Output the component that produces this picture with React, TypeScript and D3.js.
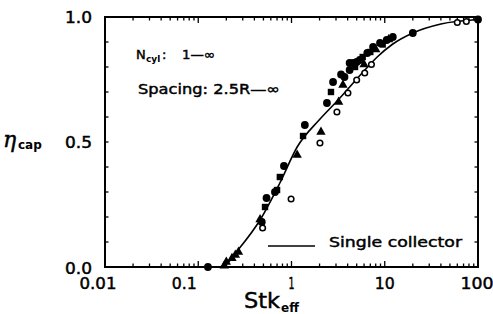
import React from 'react';
import * as d3 from 'd3';

// axis ticks / labels
const stkTicks = [0.01, 0.1, 1, 10, 100];
const stkTickLabels = ['0.01', '0.1', '1', '10', '100'];
const stkLabelShift = [-7, -14, 0, 0, -1];
const stkLabelWidth = [37, 25, 6, 20, 33];
const etaTicks = [0, 0.5, 1];
const etaTickLabels = ['0.0', '0.5', '1.0'];

// single collector curve
const singleCollector: [number, number][] = [
  [0.17, 0], [0.2, 0.012], [0.267, 0.068], [0.46, 0.188], [0.75, 0.336],
  [1.15, 0.48], [2.0, 0.59], [3.16, 0.668], [5.85, 0.78], [8.3, 0.84],
  [12, 0.89], [20, 0.936], [40, 0.972], [100, 0.99],
];

// experimental points, by marker
const filledCircles: [number, number][] = [
  [0.127, 0], [0.48, 0.18], [0.54, 0.276], [0.665, 0.3], [0.83, 0.404],
  [1.39, 0.568], [2.4, 0.656], [2.79, 0.74], [3.7, 0.76], [4.2, 0.788],
  [4.6, 0.816], [5.4, 0.828], [6.5, 0.856], [7.5, 0.88], [8.9, 0.896],
  [10.5, 0.908], [12.2, 0.92], [20, 0.936], [100, 0.99], [4.2, 0.816],
  [3.4, 0.77], [5.0, 0.82],
];
const openCircles: [number, number][] = [
  [0.49, 0.156], [0.99, 0.272], [2.02, 0.496], [3.07, 0.62], [4.03, 0.696],
  [5.0, 0.748], [6.1, 0.776], [7.2, 0.81], [60, 0.978], [75, 0.982],
];
const filledSquares: [number, number][] = [
  [0.52, 0.24], [0.7, 0.308], [0.75, 0.36], [1.33, 0.524], [2.65, 0.7],
  [4.8, 0.8], [5.8, 0.84], [7.0, 0.86], [9.5, 0.89],
];
const filledTriangles: [number, number][] = [
  [0.19, 0.005], [0.2, 0.02], [0.23, 0.035], [0.25, 0.048], [0.27, 0.06],
  [0.46, 0.19], [1.15, 0.448], [2.07, 0.54], [3.2, 0.66], [3.56, 0.728],
  [6.0, 0.81], [8, 0.87], [11, 0.91],
];

const W = 493;
const H = 314;
const m = { left: 105, right: 478, top: 17, bottom: 267 };
const font = '"DejaVu Sans", sans-serif';
// the scanned lettering is a bit heavier than DejaVu regular
const ink = { stroke: '#000', strokeWidth: 0.45 };

export default function App() {
  const x = d3.scaleLog().domain([0.01, 100]).range([m.left, m.right]);
  const y = d3.scaleLinear().domain([0, 1]).range([m.bottom, m.top]);

  const line = d3.line<[number, number]>()
    .x((d) => x(d[0]))
    .y((d) => y(d[1]))
    .curve(d3.curveMonotoneX);

  const minorX = x.ticks();
  const minorY = y.ticks(10);
  const tri = d3.symbol().type(d3.symbolTriangle).size(38)();

  return (
    <svg width={W} height={H} style={{ position: 'absolute', left: 0, top: 0, background: '#fff' }}>
      {/* frame */}
      <rect x={m.left} y={m.top} width={m.right - m.left} height={m.bottom - m.top}
        fill="none" stroke="#000" strokeWidth={2} />

      {/* x ticks, bottom and top, inward */}
      {minorX.map((t, i) => {
        const major = stkTicks.includes(t);
        const len = major ? 6 : 3.5;
        return (
          <g key={'xt' + i} stroke="#000" strokeWidth={1.3}>
            <line x1={x(t)} x2={x(t)} y1={m.bottom} y2={m.bottom - len} />
            <line x1={x(t)} x2={x(t)} y1={m.top} y2={m.top + len} />
          </g>
        );
      })}
      {/* y ticks, left and right, inward */}
      {minorY.map((t, i) => (
        <g key={'yt' + i} stroke="#000" strokeWidth={1.3}>
          <line x1={m.left} x2={m.left + 3.5} y1={y(t)} y2={y(t)} />
          <line x1={m.right} x2={m.right - 3.5} y1={y(t)} y2={y(t)} />
        </g>
      ))}

      {/* tick labels */}
      {stkTicks.map((t, i) => (
        <text key={'xl' + i} x={x(t) + stkLabelShift[i]} y={289} textAnchor="middle" {...ink}
          fontFamily={font} fontSize={15} textLength={stkLabelWidth[i]} lengthAdjust="spacingAndGlyphs">
          {stkTickLabels[i]}
        </text>
      ))}
      {etaTicks.map((t, i) => (
        <text key={'yl' + i} x={m.left - 13} y={y(t) + 6 + (t === 0 ? 1 : 0)} textAnchor="end" {...ink}
          fontFamily={font} fontSize={15} textLength={27} lengthAdjust="spacingAndGlyphs">
          {etaTickLabels[i]}
        </text>
      ))}

      {/* axis titles */}
      <text x={244} y={308} fontFamily={font} fontSize={21} textLength={36} lengthAdjust="spacingAndGlyphs" {...ink}>Stk</text>
      <text x={281} y={312} fontFamily={font} fontSize={12} fontWeight="bold">eff</text>
      <text x={3} y={147} fontFamily="'DejaVu Serif', serif" fontStyle="italic" fontSize={22} {...ink}>η</text>
      <text x={18} y={149} fontFamily={font} fontSize={12} fontWeight="bold">cap</text>

      {/* annotations */}
      <text x={136} y={59} fontFamily={font} fontSize={13} {...ink}>N</text>
      <text x={146} y={62} fontFamily={font} fontSize={9} fontWeight="bold">cyl</text>
      <text x={162} y={59} fontFamily={font} fontSize={13} {...ink}>:</text>
      <text x={182} y={59} fontFamily={font} fontSize={13} {...ink} textLength={33} lengthAdjust="spacingAndGlyphs">1—∞</text>
      <text x={138} y={94} fontFamily={font} fontSize={14} {...ink} textLength={142} lengthAdjust="spacingAndGlyphs">Spacing:  2.5R—∞</text>

      {/* legend */}
      <line x1={268} x2={315} y1={246} y2={246} stroke="#000" strokeWidth={1.6} />
      <text x={329} y={247} fontFamily={font} fontSize={14} {...ink} textLength={133} lengthAdjust="spacingAndGlyphs">Single  collector</text>

      {/* curve */}
      <path d={line(singleCollector) || ''} fill="none" stroke="#000" strokeWidth={1.6} />

      {/* markers */}
      {filledSquares.map((d, i) => (
        <rect key={'s' + i} x={x(d[0]) - 3.2} y={y(d[1]) - 3.2} width={6.4} height={6.4} fill="#000" />
      ))}
      {filledTriangles.map((d, i) => (
        <path key={'t' + i} d={tri || ''} transform={`translate(${x(d[0])},${y(d[1])})`} fill="#000" />
      ))}
      {filledCircles.map((d, i) => (
        <circle key={'c' + i} cx={x(d[0])} cy={y(d[1])} r={3.9} fill="#000" />
      ))}
      {openCircles.map((d, i) => (
        <circle key={'o' + i} cx={x(d[0])} cy={y(d[1])} r={2.8} fill="#fff" stroke="#000" strokeWidth={1.5} />
      ))}
    </svg>
  );
}
